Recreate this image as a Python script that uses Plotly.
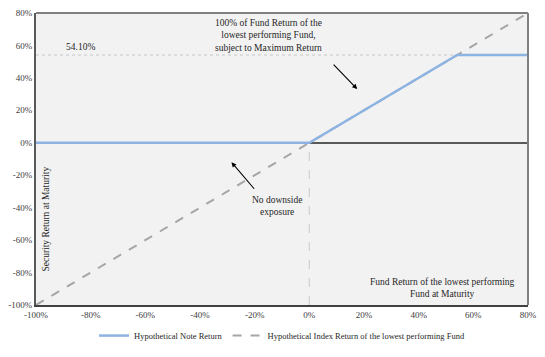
import plotly.graph_objects as go

# Data (percent)
fund_return = [-100, 0, 54.10, 80]
note_return = [0, 0, 54.10, 54.10]
index_x = [-100, 80]
index_y = [-100, 80]
cap_level = 54.10
x_ticks = [-100, -80, -60, -40, -20, 0, 20, 40, 60, 80]
y_ticks = [-100, -80, -60, -40, -20, 0, 20, 40, 60, 80]

FONT = "Georgia, 'Liberation Serif', 'DejaVu Serif', serif"
TXT = "#262626"

fig = go.Figure()
fig.add_trace(go.Scatter(
    x=index_x, y=index_y, mode="lines",
    name="Hypothetical Index Return of the lowest performing Fund",
    line=dict(color="#a6a6a6", width=2, dash="dash"),
))
fig.add_trace(go.Scatter(
    x=fund_return, y=note_return, mode="lines",
    name="Hypothetical Note Return",
    line=dict(color="#8db3e2", width=2.5),
))

shapes = [
    dict(type="line", xref="paper", x0=0, x1=1, yref="y", y0=cap_level, y1=cap_level,
         line=dict(color="#c8c8c8", width=1, dash="dot"), layer="below"),
    dict(type="line", xref="x", x0=0, x1=0, yref="y", y0=-100, y1=0,
         line=dict(color="#d0d0d0", width=1.2, dash="dash"), layer="below"),
    dict(type="line", xref="paper", yref="paper", x0=0, x1=1, y0=1, y1=1,
         line=dict(color="#808080", width=2)),
    dict(type="line", xref="paper", yref="paper", x0=1, x1=1, y0=0, y1=1,
         line=dict(color="#808080", width=2)),
]

annotations = [
    dict(x=-83.7, y=59, xref="x", yref="y", text="54.10%", showarrow=False,
         font=dict(size=9.5, color=TXT, family=FONT)),
    dict(x=-15, y=66.4, xref="x", yref="y",
         text="100% of Fund Return of the<br>lowest performing Fund,<br>subject to Maximum Return",
         showarrow=False, font=dict(size=9.5, color=TXT, family=FONT)),
    dict(x=17.5, y=33.1, xref="x", yref="y", text="", showarrow=True,
         ax=-25, ay=-26, arrowhead=2, arrowsize=0.9, arrowwidth=1.1, arrowcolor="#000000"),
    dict(x=-11.7, y=-39, xref="x", yref="y", text="No downside<br>exposure",
         showarrow=False, font=dict(size=9.5, color=TXT, family=FONT)),
    dict(x=-28.5, y=-12, xref="x", yref="y", text="", showarrow=True,
         ax=24, ay=28, arrowhead=2, arrowsize=0.9, arrowwidth=1.1, arrowcolor="#000000"),
    dict(x=48.6, y=-89.8, xref="x", yref="y",
         text="Fund Return of the lowest performing<br>Fund at Maturity",
         showarrow=False, font=dict(size=9.5, color=TXT, family=FONT)),
    dict(x=-96.5, y=-47, xref="x", yref="y", text="Security Return at Maturity",
         textangle=-90, showarrow=False, font=dict(size=9.5, color=TXT, family=FONT)),
]

fig.update_layout(
    width=545, height=357,
    margin=dict(l=36, r=17, t=13, b=52, autoexpand=False),
    paper_bgcolor="white",
    plot_bgcolor="#f2f2f2",
    font=dict(family=FONT, size=9, color="#404040"),
    shapes=shapes,
    annotations=annotations,
    showlegend=True,
    legend=dict(orientation="h", x=0.5, xanchor="center",
                yref="container", y=0.06, yanchor="middle",
                traceorder="reversed", font=dict(size=8.5, color=TXT, family=FONT),
                bgcolor="rgba(0,0,0,0)"),
    xaxis=dict(range=[-100, 80], tickvals=x_ticks,
               ticktext=[f"{v}%" for v in x_ticks],
               showgrid=False, zeroline=False, showline=True,
               linecolor="#404040", linewidth=2, ticks=""),
    yaxis=dict(range=[-100, 80], tickvals=y_ticks,
               ticktext=[f"{v}%" for v in y_ticks],
               showgrid=False, zeroline=True, zerolinecolor="#595959", zerolinewidth=1.5,
               showline=True, linecolor="#595959", linewidth=2, ticks=""),
)

fig.write_html("out.html",
               config={"displayModeBar": False},
               post_script="document.body.style.margin='0';document.body.style.overflow='hidden';")
